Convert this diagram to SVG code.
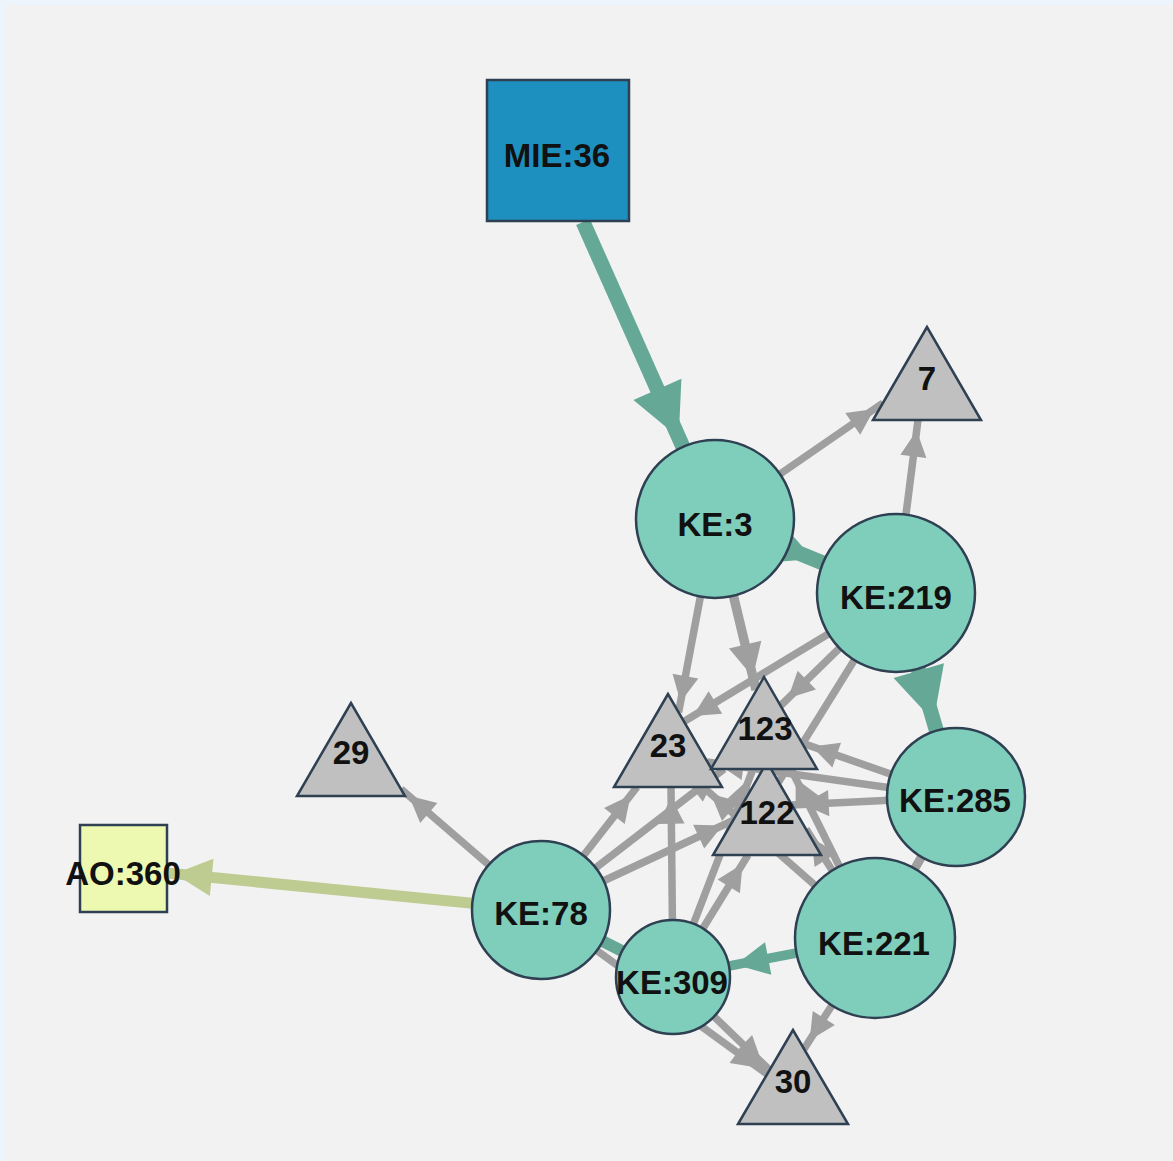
<svg xmlns="http://www.w3.org/2000/svg" width="1173" height="1161" viewBox="0 0 1173 1161">
<style>
.g{fill:none;stroke:#9f9f9f;stroke-width:7.5;marker-end:url(#ag)}
.t{fill:none;stroke:#65a895;stroke-width:15;marker-end:url(#at)}
.o{fill:none;stroke:#becb91;stroke-width:11;marker-end:url(#ao)}
.ke{fill:#7fcdbb;stroke:#2e4052;stroke-width:2.5}
.tri{fill:#c0c0c0;stroke:#2e4052;stroke-width:2.5;stroke-linejoin:miter}
.lbl{font-family:"Liberation Sans",Arial,sans-serif;font-weight:bold;font-size:33px;fill:#111;text-anchor:middle}
</style>
<defs>
<marker id="ag" viewBox="0 0 10 10" refX="14" refY="5" markerWidth="3.5" markerHeight="3.5" orient="auto" markerUnits="strokeWidth" overflow="visible"><path d="M0,0 L10,5 L0,10 z" fill="#9f9f9f"/></marker>
<marker id="at" viewBox="0 0 10 10" refX="12" refY="5" markerWidth="3.5" markerHeight="3.5" orient="auto" markerUnits="strokeWidth" overflow="visible"><path d="M0,0 L10,5 L0,10 z" fill="#65a895"/></marker>
<marker id="ao" viewBox="0 0 10 10" refX="12" refY="5" markerWidth="3.4" markerHeight="3.4" orient="auto" markerUnits="strokeWidth" overflow="visible"><path d="M0,0 L10,5 L0,10 z" fill="#becb91"/></marker>
</defs>
<rect x="0" y="0" width="1173" height="1161" fill="#eef4fb"/>
<rect x="5" y="5" width="1168" height="1156" fill="#f2f2f2"/>
<g id="edges">
<path class="g" d="M715,519 L883,403"/>
<path class="g" d="M896,593 L918,420"/>
<path class="g" d="M715,519 L678.6,712.2"/>
<path class="g" d="M715,519 L756,690" style="stroke-width:9.5"/>
<path class="g" d="M896,593 L684,721.5"/>
<path class="g" d="M896,593 L780.5,705.7"/>
<path class="g" d="M896,593 L778.6,782"/>
<path class="g" d="M956,797 L802,743"/>
<path class="g" d="M956,797 L707,762"/>
<path class="g" d="M956,797 L792,805"/>
<path class="g" d="M875,938 L791,769"/>
<path class="g" d="M875,938 L806,829"/>
<path class="g" d="M875,938 L703,787"/>
<path class="g" d="M875,938 L804,1049"/>
<path class="g" d="M541,910 L637,787"/>
<path class="g" d="M541,910 L732,821"/>
<path class="g" d="M541,910 L724,769"/>
<path class="g" d="M541,910 L401,789"/>
<path class="g" d="M541,910 L767,1074"/>
<path class="g" d="M673,977 L769.5,1070"/>
<path class="g" d="M673,977 L671,787"/>
<path class="g" d="M673,977 L748,855"/>
<path class="g" d="M673,977 L753,769"/>
<path class="g" d="M956,797 L914.8,868.6" style="stroke-width:9"/>
<path class="t" d="M583,222 L683,447"/>
<path class="t" d="M715,519 L823,563"/>
<path class="t" d="M896,593 L936.5,731"/>
<path class="t" d="M541,910 L622,951" style="stroke-width:12"/>
<path class="t" d="M875,938 L729,966" style="stroke-width:9.5"/>
<path class="o" d="M541,910 L167,873"/>
</g>
<g id="node-MIE36"><rect x="487" y="80" width="142" height="141" fill="#1e90c0" stroke="#2e4052" stroke-width="2.5"/><text class="lbl" x="557" y="167">MIE:36</text></g>
<g id="node-AO360"><rect x="80" y="825" width="87" height="87" fill="#edf8b1" stroke="#2e4052" stroke-width="2.5"/><text class="lbl" x="123" y="885">AO:360</text></g>
<g id="node-7"><polygon class="tri" points="927,327 873,420 981,420"/><text class="lbl" x="927" y="390">7</text></g>
<g id="node-29"><polygon class="tri" points="351,703 297,796 405,796"/><text class="lbl" x="351" y="764">29</text></g>
<g id="node-23"><polygon class="tri" points="668,694 614,787 722,787"/><text class="lbl" x="668" y="757">23</text></g>
<g id="node-122"><polygon class="tri" points="767,762 713,855 821,855"/><text class="lbl" x="767" y="824">122</text></g>
<g id="node-123"><polygon class="tri" points="764,677 711,769 817,769"/><text class="lbl" x="765" y="740">123</text></g>
<g id="node-30"><polygon class="tri" points="793,1030 738,1124 848,1124"/><text class="lbl" x="793" y="1093">30</text></g>
<g id="node-KE3"><circle class="ke" cx="715" cy="519" r="79"/><text class="lbl" x="715" y="536">KE:3</text></g>
<g id="node-KE219"><circle class="ke" cx="896" cy="593" r="79"/><text class="lbl" x="896" y="609">KE:219</text></g>
<g id="node-KE285"><circle class="ke" cx="956" cy="797" r="69"/><text class="lbl" x="955" y="812">KE:285</text></g>
<g id="node-KE221"><circle class="ke" cx="875" cy="938" r="80"/><text class="lbl" x="874" y="955">KE:221</text></g>
<g id="node-KE78"><circle class="ke" cx="541" cy="910" r="69"/><text class="lbl" x="541" y="925">KE:78</text></g>
<g id="node-KE309"><circle class="ke" cx="673" cy="977" r="57"/><text class="lbl" x="672" y="994">KE:309</text></g>
</svg>
